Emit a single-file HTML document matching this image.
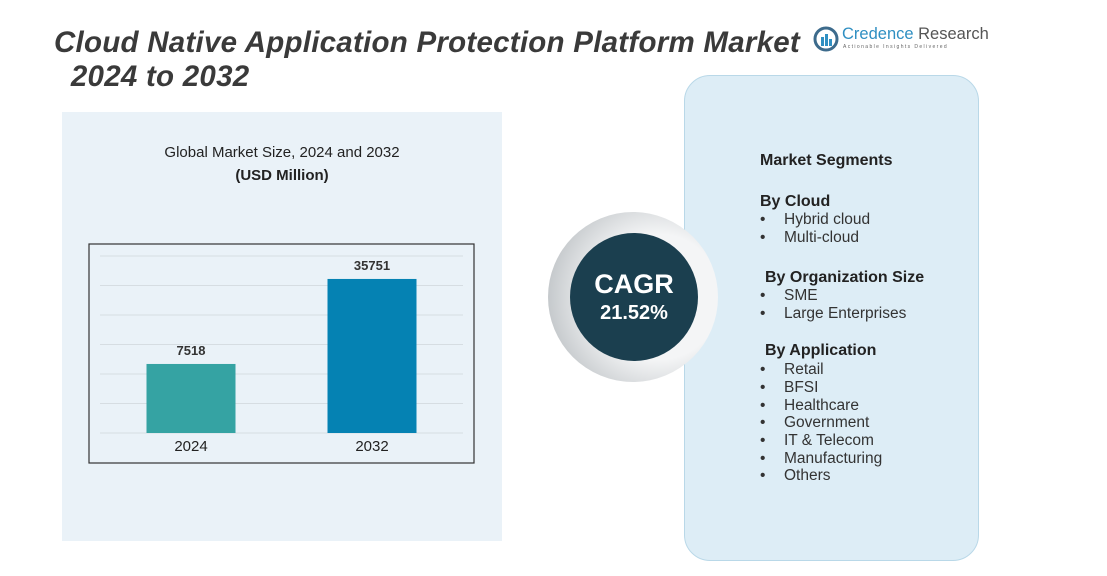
<!DOCTYPE html>
<html><head><meta charset="utf-8"><style>
body{margin:0;width:1107px;height:576px;background:#fff;position:relative;overflow:hidden;font-family:"Liberation Sans",sans-serif;}
.abs{position:absolute;}
.title{left:54px;top:26px;font-size:29.5px;font-weight:bold;font-style:italic;color:#3a3a3a;line-height:34px;letter-spacing:0.25px;}
.seg{font-size:15.5px;color:#222;}
.seg b{font-size:16px;}
.li{position:absolute;left:760px;font-size:15.5px;color:#333;}
.li:before{content:"•";position:absolute;left:0;}
.li span{margin-left:24px;}
</style></head><body>
<div class="abs title">Cloud Native Application Protection Platform Market<br>&nbsp;&nbsp;2024 to 2032</div>
<div class="abs" style="left:813px;top:26px;">
<svg width="26" height="26" style="position:absolute;left:0;top:0"><circle cx="13" cy="13" r="11" fill="none" stroke="#3d6b8c" stroke-width="3"/><rect x="8" y="11" width="3" height="9" fill="#2f8fc2"/><rect x="12" y="8" width="3" height="12" fill="#2f8fc2"/><rect x="16" y="13" width="3" height="7" fill="#2f8fc2"/></svg>
<div style="position:absolute;left:29px;top:-1px;font-size:16.5px;color:#2f8fc2;white-space:nowrap">Credence <span style="color:#555">Research</span></div>
<div style="position:absolute;left:30px;top:18px;font-size:5px;color:#666;letter-spacing:1.4px;white-space:nowrap">Actionable Insights Delivered</div>
</div>
<div class="abs" style="left:62px;top:112px;width:440px;height:429px;background:#eaf2f8;"></div>
<div class="abs" style="left:62px;top:141px;width:440px;text-align:center;font-size:15px;color:#222;line-height:23px">Global Market Size, 2024 and 2032<br><b>(USD Million)</b></div>
<svg class="abs" style="left:0;top:0" width="1107" height="576" id="chart"></svg>
<div class="abs" style="left:684px;top:75px;width:293px;height:484px;border-radius:26px;background:#ddedf6;border:1px solid #b9d8e8;"></div>
<div class="abs" style="left:548px;top:212px;width:170px;height:170px;border-radius:50%;background:radial-gradient(circle at 65% 50%,#f4f5f6 45%,#c4c8cb 80%,#e6e8ea 100%);"></div>
<div class="abs" style="left:570px;top:233px;width:128px;height:128px;border-radius:50%;background:#1b3f4f;color:#fff;text-align:center;font-weight:bold;">
<div style="margin-top:36px;font-size:27px">CAGR</div><div style="font-size:20px;margin-top:2px">21.52%</div></div>
<div class="abs seg" style="left:760px;top:152px"><b>Market Segments</b></div>
<div class="abs seg" style="left:760px;top:193px"><b>By Cloud</b></div>
<div class="li" style="top:211px"><span>Hybrid cloud</span></div>
<div class="li" style="top:229px"><span>Multi-cloud</span></div>
<div class="abs seg" style="left:765px;top:269px"><b>By Organization Size</b></div>
<div class="li" style="top:287px"><span>SME</span></div>
<div class="li" style="top:305px"><span>Large Enterprises</span></div>
<div class="abs seg" style="left:765px;top:342px"><b>By Application</b></div>
<div class="li" style="top:361px"><span>Retail</span></div>
<div class="li" style="top:379px"><span>BFSI</span></div>
<div class="li" style="top:397px"><span>Healthcare</span></div>
<div class="li" style="top:414px"><span>Government</span></div>
<div class="li" style="top:432px"><span>IT &amp; Telecom</span></div>
<div class="li" style="top:450px"><span>Manufacturing</span></div>
<div class="li" style="top:467px"><span>Others</span></div>
<script>
const categories=["2024","2032"];
const values=[7518,35751];
const colors=["#35a3a3","#0582b3"];
const NS="http://www.w3.org/2000/svg",svg=document.getElementById("chart");
const x0=89,x1=474,y0=244,y1=463,base=433;
const dMin=-15410,dMax=43375;
function hb(v){return (v-dMin)/(dMax-dMin)*177;}
function xc(i){return 191+i*181;}
function mk(t,a){const e=document.createElementNS(NS,t);for(const k in a)e.setAttribute(k,a[k]);svg.appendChild(e);return e;}
for(let i=0;i<7;i++){const g=mk("line",{x1:100,x2:463,y1:base-i*29.5,y2:base-i*29.5,stroke:"#d6dde2","stroke-width":1});

}
const fr=mk("rect",{x:x0,y:y0,width:x1-x0,height:y1-y0,fill:"none",stroke:"#333","stroke-width":1.2});


values.forEach((v,i)=>{const h=hb(v);
const r=mk("rect",{x:xc(i)-44.5,y:base-h,width:89,height:h,fill:colors[i]});


const t=mk("text",{x:xc(i),y:base-h-9,"text-anchor":"middle","font-size":13,"font-weight":"bold",fill:"#333"});t.textContent=v;


const c=mk("text",{x:xc(i),y:451,"text-anchor":"middle","font-size":15,fill:"#222"});c.textContent=categories[i];

});
</script>
</body></html>
